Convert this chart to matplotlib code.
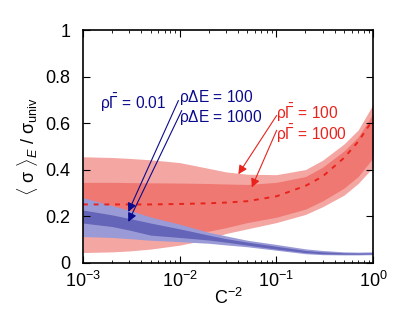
import numpy as np
import matplotlib
matplotlib.use('Agg')
import matplotlib.pyplot as plt

plt.rcParams['font.family'] = ['Liberation Sans', 'DejaVu Sans']
plt.rcParams['mathtext.fontset'] = 'custom'
plt.rcParams['mathtext.rm'] = 'Liberation Sans'
plt.rcParams['mathtext.it'] = 'Liberation Sans:italic'
plt.rcParams['mathtext.sf'] = 'Liberation Sans'

# C^-2 sample points
x = [1e-3, 2e-3, 3e-3, 5e-3, 1e-2, 2e-2, 3e-2, 5e-2, 0.1, 0.2, 0.3, 0.5, 0.7, 1.0]

# red bands (rho Gamma = 100 / 1000)
red_out_hi = [0.455, 0.452, 0.448, 0.442, 0.430, 0.405, 0.390, 0.380, 0.378, 0.400, 0.440, 0.510, 0.570, 0.680]
red_out_lo = [0.043, 0.046, 0.050, 0.058, 0.075, 0.100, 0.125, 0.145, 0.172, 0.207, 0.240, 0.290, 0.340, 0.410]
red_in_hi = [0.345, 0.345, 0.344, 0.343, 0.342, 0.340, 0.338, 0.336, 0.345, 0.370, 0.410, 0.480, 0.540, 0.640]
red_in_lo = [0.125, 0.125, 0.126, 0.128, 0.130, 0.135, 0.150, 0.172, 0.195, 0.230, 0.265, 0.320, 0.370, 0.450]
red_mean = [0.250, 0.250, 0.250, 0.250, 0.252, 0.255, 0.258, 0.264, 0.285, 0.330, 0.370, 0.450, 0.520, 0.615]

# blue bands (rho Gamma = 0.01, rho dE = 100 / 1000)
blue_out_hi = [0.279, 0.245, 0.225, 0.196, 0.165, 0.130, 0.115, 0.096, 0.078, 0.059, 0.052, 0.046, 0.045, 0.046]
blue_out_lo = [0.112, 0.108, 0.103, 0.096, 0.090, 0.083, 0.076, 0.068, 0.053, 0.038, 0.034, 0.033, 0.033, 0.034]
blue_in_hi = [0.226, 0.205, 0.190, 0.170, 0.145, 0.118, 0.103, 0.088, 0.070, 0.052, 0.046, 0.042, 0.041, 0.042]
blue_in_lo = [0.170, 0.155, 0.140, 0.118, 0.108, 0.097, 0.088, 0.075, 0.058, 0.043, 0.038, 0.036, 0.036, 0.037]

fig = plt.figure(figsize=(4.15, 3.10), dpi=100)
ax = fig.add_axes([0.2, 0.153, 0.699, 0.75])

ax.fill_between(x, red_out_lo, red_out_hi, color='#f4a6a2', lw=0)
ax.fill_between(x, red_in_lo, red_in_hi, color='#f07872', lw=0)
ax.plot(x, red_mean, color='#e8231c', lw=1.4, ls=(0, (2.5, 3)))
ax.fill_between(x, blue_out_lo, blue_out_hi, color='#9a9ad6', lw=0)
ax.fill_between(x, blue_in_lo, blue_in_hi, color='#6464b9', lw=0)

blue = '#0a0a8c'
red = '#e8231c'
fs = 11.2
gam = r'$\mathrm{\rho\bar{\Gamma}}$'
ax.text(0.0015, 0.685, gam + ' = 0.01', color=blue, fontsize=fs, va='center')
ax.text(0.0099, 0.708, r'$\mathrm{\rho\Delta}$E = 100', color=blue, fontsize=fs, va='center')
ax.text(0.0099, 0.626, r'$\mathrm{\rho\Delta}$E = 1000', color=blue, fontsize=fs, va='center')
ax.text(0.1, 0.642, gam + ' = 100', color=red, fontsize=fs, va='center')
ax.text(0.1, 0.552, gam + ' = 1000', color=red, fontsize=fs, va='center')

aprops = dict(arrowstyle='-|>', lw=0.8, mutation_scale=13, shrinkA=0, shrinkB=0)
ax.annotate('', xy=(0.00294, 0.218), xytext=(0.0097, 0.697), arrowprops=dict(color=blue, **aprops))
ax.annotate('', xy=(0.00294, 0.175), xytext=(0.0105, 0.654), arrowprops=dict(color=blue, **aprops))
ax.annotate('', xy=(0.0404, 0.380), xytext=(0.1007, 0.633), arrowprops=dict(color=red, **aprops))
ax.annotate('', xy=(0.0556, 0.323), xytext=(0.1007, 0.569), arrowprops=dict(color=red, **aprops))

ax.set_xscale('log')
ax.set_xlim(1e-3, 1)
ax.set_ylim(0, 1)
ax.set_yticks([0, 0.2, 0.4, 0.6, 0.8, 1])
ax.set_yticklabels(['0', '0.2', '0.4', '0.6', '0.8', '1'])
ax.set_xticks([1e-3, 1e-2, 1e-1, 1])
ax.set_xticklabels([r'10$^{-3}$', r'10$^{-2}$', r'10$^{-1}$', r'10$^{0}$'])
ax.tick_params(which='both', direction='in', top=True, right=True, labelsize=13)
ax.tick_params(which='major', length=5, width=0.8, pad=6)
ax.tick_params(axis='y', which='major', pad=9)
ax.tick_params(which='minor', length=2.5, width=0.6)
for s in ax.spines.values():
    s.set_linewidth(1.2)

ax.set_xlabel(r'C$^{-2}$', fontsize=13, labelpad=-2)
ax.set_ylabel(r'$\langle$ $\mathrm{\sigma}$ $\rangle_{E}$ / $\mathrm{\sigma_{univ}}$', fontsize=13, labelpad=4)

fig.savefig('out.png', dpi=100)
